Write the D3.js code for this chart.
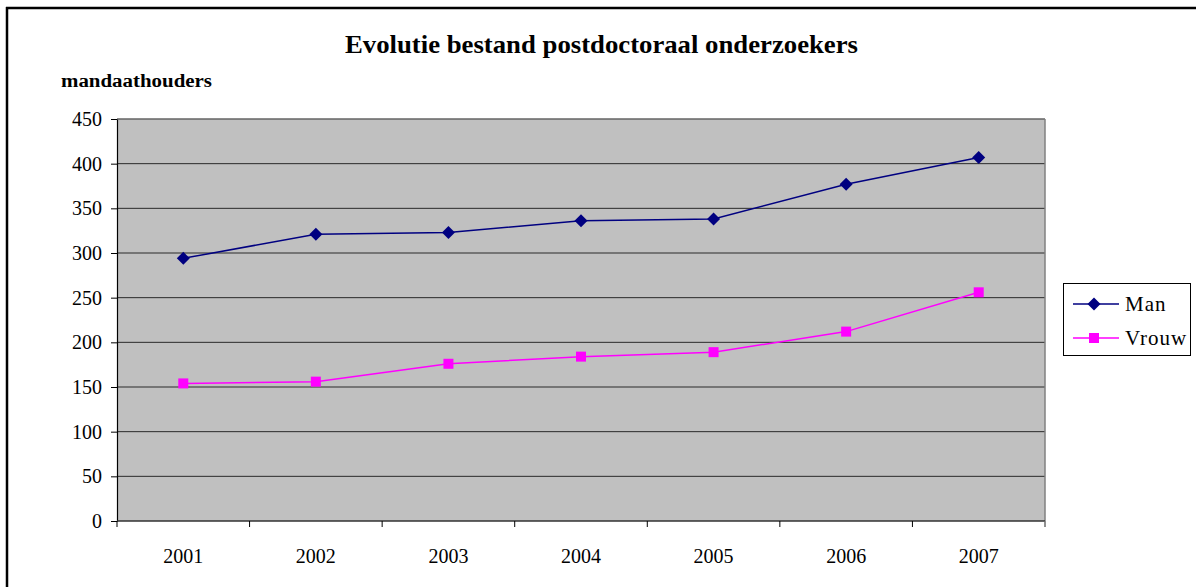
<!DOCTYPE html>
<html><head><meta charset="utf-8">
<script src="https://cdn.jsdelivr.net/npm/d3@7"></script>
<style>html,body{margin:0;padding:0;background:#fff;}svg{display:block;}</style>
</head><body>
<svg id="c" width="1196" height="587"></svg>
<script>
const years = ["2001","2002","2003","2004","2005","2006","2007"];
const man = [294, 321, 323, 336, 338, 377, 407];
const vrouw = [154, 156, 176, 184, 189, 212, 256];
const yTicks = [0,50,100,150,200,250,300,350,400,450];
const title = "Evolutie bestand postdoctoraal onderzoekers";
const yTitle = "mandaathouders";

const svg = d3.select("#c");
const font = "'Liberation Serif','Times New Roman',serif";
const L = 117, R = 1045, T = 119, B = 521;

// outer frame
svg.append("line").attr("x1",6).attr("x2",1196).attr("y1",8).attr("y2",8).attr("stroke","#000").attr("stroke-width",2.5);
svg.append("line").attr("x1",7).attr("x2",7).attr("y1",7).attr("y2",587).attr("stroke","#000").attr("stroke-width",2.5);

const x = d3.scaleBand().domain(years).range([L,R]).padding(0);
const y = d3.scaleLinear().domain([0,450]).range([B,T]);

svg.append("rect").attr("x",L).attr("y",T).attr("width",R-L).attr("height",B-T).attr("fill","#c0c0c0");
// gridlines
svg.append("g").selectAll("line").data(yTicks.filter(d=>d>0)).join("line")
  .attr("x1",L).attr("x2",R).attr("y1",d=>y(d)).attr("y2",d=>y(d))
  .attr("stroke","#2a2a2a").attr("stroke-width",1);
// plot border right/top gray
svg.append("line").attr("x1",R).attr("x2",R).attr("y1",T).attr("y2",B+6).attr("stroke","#808080").attr("stroke-width",1.5);
svg.append("line").attr("x1",L).attr("x2",R).attr("y1",T).attr("y2",T).attr("stroke","#808080").attr("stroke-width",1);

// y axis
const ya = d3.axisLeft(y).tickValues(yTicks).tickSize(6).tickSizeOuter(0).tickPadding(9);
const gy = svg.append("g").attr("transform",`translate(${L},0)`).call(ya);
gy.attr("font-family",font).attr("font-size",20);
gy.select(".domain").attr("stroke","#000").attr("stroke-width",1.2);
gy.selectAll(".tick line").attr("stroke","#000");
gy.selectAll("text").attr("fill","#000").attr("dy","0.33em");

// x axis
const xa = d3.axisBottom(x).tickSize(0).tickPadding(0);
const gx = svg.append("g").attr("transform",`translate(0,${B})`).call(xa);
gx.attr("font-family",font).attr("font-size",20);
gx.select(".domain").remove();
gx.selectAll("text").attr("fill","#000").attr("dy","2.1em");
svg.append("line").attr("x1",L).attr("x2",R).attr("y1",B).attr("y2",B).attr("stroke","#333").attr("stroke-width",1.5);
svg.append("g").selectAll("line").data(years.concat(["end"])).join("line")
  .attr("x1",(d,i)=>L+i*x.step()).attr("x2",(d,i)=>L+i*x.step())
  .attr("y1",B).attr("y2",B+6).attr("stroke",(d,i)=>i===years.length?"#808080":"#000");

const cx = d=>x(d)+x.bandwidth()/2;
const line = d3.line().x((d,i)=>cx(years[i])).y(d=>y(d));

svg.append("path").datum(vrouw).attr("d",line).attr("fill","none").attr("stroke","#ff00ff").attr("stroke-width",1.5);
svg.append("path").datum(man).attr("d",line).attr("fill","none").attr("stroke","#000080").attr("stroke-width",1.5);
svg.append("g").selectAll("rect").data(vrouw).join("rect")
  .attr("x",(d,i)=>cx(years[i])-5).attr("y",d=>y(d)-5).attr("width",10).attr("height",10).attr("fill","#ff00ff");
const diamond = "M0,-6.5L6.5,0L0,6.5L-6.5,0Z";
svg.append("g").selectAll("path").data(man).join("path")
  .attr("d",diamond).attr("transform",(d,i)=>`translate(${cx(years[i])},${y(d)})`).attr("fill","#000080");

// titles
svg.append("text").attr("x",345).attr("y",53).attr("font-family",font)
  .attr("font-weight","bold").attr("font-size",25).attr("textLength",513).attr("lengthAdjust","spacingAndGlyphs").text(title);
svg.append("text").attr("x",61).attr("y",87).attr("font-family",font)
  .attr("font-weight","bold").attr("font-size",18).attr("textLength",151).attr("lengthAdjust","spacingAndGlyphs").text(yTitle);

// legend
const lg = svg.append("g");
lg.append("rect").attr("x",1063.5).attr("y",283.5).attr("width",127).attr("height",72).attr("fill","#fff").attr("stroke","#000").attr("stroke-width",1);
const items = [{name:"Man",color:"#000080",type:"d"},{name:"Vrouw",color:"#ff00ff",type:"s"}];
items.forEach((it,i)=>{
  const yy = 304 + i*34;
  lg.append("line").attr("x1",1073).attr("x2",1119).attr("y1",yy).attr("y2",yy).attr("stroke",it.color).attr("stroke-width",1.5);
  if(it.type==="d") lg.append("path").attr("d",diamond).attr("transform",`translate(1094,${yy})`).attr("fill",it.color);
  else lg.append("rect").attr("x",1089).attr("y",yy-5).attr("width",10).attr("height",10).attr("fill",it.color);
  lg.append("text").attr("x",1125).attr("y",yy+7).attr("font-family",font).attr("font-size",21).attr("letter-spacing","1px").text(it.name);
});
</script>
</body></html>
